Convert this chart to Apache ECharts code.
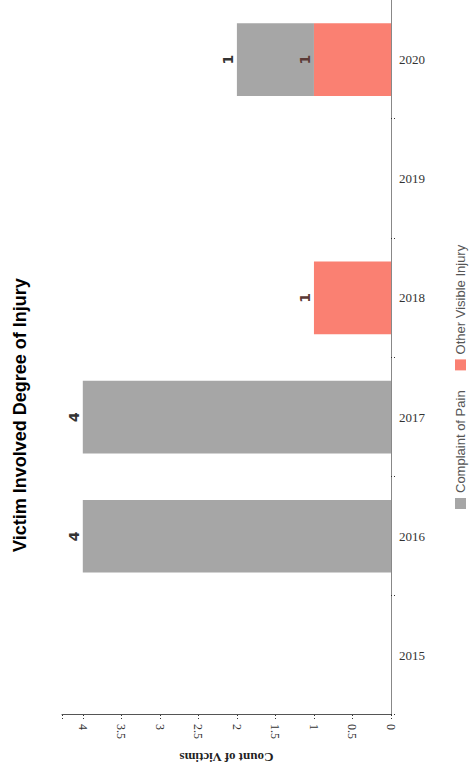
<!DOCTYPE html>
<html>
<head>
<meta charset="utf-8">
<script src="https://cdn.jsdelivr.net/npm/echarts@6/dist/echarts.min.js"></script>
<style>
  html, body { margin: 0; padding: 0; width: 469px; height: 778px; overflow: hidden; background: #fff; }
  #chart {
    position: absolute; left: 0; top: 0;
    width: 778px; height: 469px;
    transform-origin: 0 0;
    transform: translate(0px, 778px) rotate(-90deg);
  }
</style>
</head>
<body>
<div id="chart"></div>
<script>
// ---- data ----
const categories = ['2015', '2016', '2017', '2018', '2019', '2020'];
const complaintOfPain = [0, 4, 4, 0, 0, 1];
const otherVisibleInjury = [0, 0, 0, 1, 0, 1];
const seriesNames = ['Complaint of Pain', 'Other Visible Injury'];
const titleText = 'Victim Involved Degree of Injury';
const valueAxisName = 'Count of Victims';

const chart = echarts.init(document.getElementById('chart'), null, { renderer: 'svg', width: 778, height: 469 });

const hideZero = p => (p.value ? String(p.value) : '');

chart.setOption({
  animation: false,
  backgroundColor: '#ffffff',
  title: {
    text: titleText,
    left: 221, top: 6,
    textStyle: { fontFamily: 'Liberation Sans', fontWeight: 'bold', fontSize: 18, color: '#000' }
  },
  legend: {
    data: seriesNames,
    left: 264, top: 449,
    itemWidth: 11, itemHeight: 11, itemGap: 20,
    icon: 'rect',
    textStyle: { fontFamily: 'Liberation Sans', fontSize: 13, color: '#555' }
  },
  grid: { left: 63, right: 0, top: 62, bottom: 78, containLabel: false },
  xAxis: {
    type: 'category',
    data: categories,
    axisLine: { lineStyle: { color: '#888', width: 1 } },
    axisTick: { show: true, length: 5, lineStyle: { color: '#333', type: [1, 2] } },
    axisLabel: {
      rotate: -90, margin: 8,
      fontFamily: 'Liberation Serif', fontSize: 13, color: '#333'
    },
    splitLine: { show: false }
  },
  yAxis: {
    type: 'value',
    min: 0, max: 4.27, interval: 0.5,
    name: valueAxisName,
    nameLocation: 'middle', nameGap: 36,
    nameTextStyle: { fontFamily: 'Liberation Serif', fontWeight: 'bold', fontSize: 13, color: '#222' },
    axisLine: { show: true, lineStyle: { color: '#555', width: 1 } },
    axisTick: { show: true, length: 5, lineStyle: { color: '#333', type: [1, 2] } },
    axisLabel: {
      rotate: 180, margin: 9,
      fontFamily: 'Liberation Serif', fontSize: 12, color: '#333',
      formatter: v => (Math.abs(v * 2 - Math.round(v * 2)) < 1e-6 ? String(v) : '')
    },
    splitLine: { show: false }
  },
  series: [
    {
      name: seriesNames[1], type: 'bar', stack: 'total',
      data: otherVisibleInjury, barWidth: '61%',
      itemStyle: { color: '#FA8072' },
      label: { show: true, position: 'top', distance: 2, formatter: hideZero,
        fontFamily: 'DejaVu Sans', fontWeight: 'bold', fontSize: 14, color: '#5b3a36' }
    },
    {
      name: seriesNames[0], type: 'bar', stack: 'total',
      data: complaintOfPain, barWidth: '61%',
      itemStyle: { color: '#A6A6A6' },
      label: { show: true, position: 'top', distance: 2, formatter: hideZero,
        fontFamily: 'DejaVu Sans', fontWeight: 'bold', fontSize: 14, color: '#333' }
    }
  ]
});
</script>
</body>
</html>
